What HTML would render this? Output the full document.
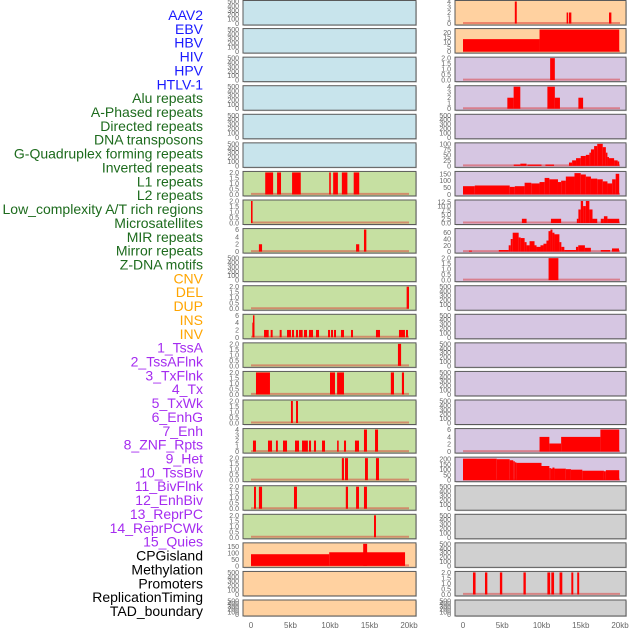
<!DOCTYPE html>
<html><head><meta charset="utf-8">
<style>
html,body{margin:0;padding:0;background:#fff;width:630px;height:630px;overflow:hidden}
svg{display:block;font-family:"Liberation Sans",sans-serif}
</style></head>
<body>
<svg id="chart" width="630" height="630"></svg>
<script>
// ---- labels ----
const labelTexts = ["AAV2","EBV","HBV","HIV","HPV","HTLV-1","Alu repeats","A-Phased repeats","Directed repeats","DNA transposons","G-Quadruplex forming repeats","Inverted repeats","L1 repeats","L2 repeats","Low_complexity A/T rich regions","Microsatellites","MIR repeats","Mirror repeats","Z-DNA motifs","CNV","DEL","DUP","INS","INV","1_TssA","2_TssAFlnk","3_TxFlnk","4_Tx","5_TxWk","6_EnhG","7_Enh","8_ZNF_Rpts","9_Het","10_TssBiv","11_BivFlnk","12_EnhBiv","13_ReprPC","14_ReprPCWk","15_Quies","CPGisland","Methylation","Promoters","ReplicationTiming","TAD_boundary"];
const labelGroups = [6,13,5,15,5];
const groupColors = ["#1a1aff","#1d6b1d","#ffa500","#a52cf0","#000000"];

// ---- x axis ----
const xTickValues = [0,5,10,15,20];
const xTickLabels = ["0","5kb","10kb","15kb","20kb"];

// ---- tick sets ----
const ticksEmpty = [0,100,200,300,400,500];
const ticks2 = [0,0.5,1,1.5,2];
const ticks4 = [0,1,2,3,4];
const ticks6 = [0,2,4,6];
const ticks150 = [0,50,100,150];
const ticks20 = [0,5,10,15,20];
const ticks100 = [0,25,50,75,100];
const ticks12 = [0,2.5,5,7.5,10,12.5];
const ticks60 = [0,20,40,60];
const ticks200 = [0,50,100,150,200];

// ---- series: [startKb, endKb, value] ----
const left_r06 = [[1.8,2.8,2],[3.3,3.8,2],[5.2,6.3,2],[9.9,10.1,2],[10.4,11.0,2],[11.5,12.2,2],[13.0,13.7,2]];
const left_r07 = [[0,0.2,2]];
const left_r08 = [[1.0,1.4,2],[13.3,13.7,2],[14.3,14.6,6]];
const left_r10 = [[19.7,20.0,2]];
const left_r11 = [[0.17,0.42,4],[0.25,0.32,6],[1.65,2.24,2],[2.49,2.74,2],[3.63,3.88,2],[4.56,5.06,2],[5.19,5.44,2],[5.70,5.95,2],[6.08,6.54,2],[6.71,7.09,2],[7.34,7.85,2],[8.23,8.61,2],[9.75,10.0,2],[10.13,10.38,2],[10.51,10.76,2],[11.39,11.77,2],[12.66,12.91,2],[15.82,16.33,2],[18.73,19.49,2],[19.62,19.87,2]];
const left_r12 = [[18.6,19.0,2]];
const left_r13 = [[0.63,2.4,2],[10.0,10.63,2],[10.9,11.77,2],[17.7,18.1,2],[19.1,19.37,2]];
const left_r14 = [[5.06,5.3,2],[5.7,5.95,2]];
const left_r15 = [[0.25,0.63,2],[2.15,2.66,2],[3.16,3.4,2],[4.05,4.56,2],[5.57,6.08,2],[6.46,7.2,2],[7.34,7.6,2],[7.97,8.23,2],[8.99,9.37,2],[10.9,11.1,2],[11.77,12.03,2],[13.16,13.67,2],[14.3,14.68,4],[15.7,16.08,4]];
const left_r16 = [[11.5,11.77,2],[11.9,12.28,2],[14.43,14.8,2],[15.82,16.2,2]];
const left_r17 = [[0.38,0.63,2],[1.0,1.4,2],[5.44,5.82,2],[12.0,12.28,2],[13.3,13.67,2],[14.3,14.68,2]];
const left_r18 = [[15.57,15.82,2]];
const left_r19 = [[0,9.9,90],[9.9,19.5,105],[14.2,14.7,170]];

const right_r00 = [[6.6,6.85,4],[13.2,13.4,2],[13.5,13.8,2],[18.6,18.9,2]];
const right_r01 = [[0,9.75,13],[9.75,19.9,23]];
const right_r02 = [[11.1,11.7,2]];
const right_r03 = [[5.65,6.45,2],[6.45,7.3,4],[10.75,11.7,4],[11.7,12.35,2],[14.7,15.3,2]];
const right_r05 = [[6.46,7.3,6],[7.3,8.1,10],[8.2,10.0,6],[10.5,11.6,6],[13.5,13.9,15],[13.9,14.4,25],[14.4,15.0,35],[15.0,15.65,45],[15.65,16.1,50],[16.1,16.3,60],[16.3,16.7,75],[16.7,17.1,90],[17.1,17.8,100],[17.8,18.2,85],[18.2,18.4,60],[18.4,18.6,40],[18.6,19.25,35],[19.25,19.7,25],[19.7,19.9,20]];
const right_r06 = [[0,1.5,60],[1.5,5.95,65],[5.95,6.6,55],[6.6,7.85,60],[7.85,8.7,85],[8.7,9.75,80],[9.75,10.4,90],[10.4,11.0,120],[11.0,12.1,110],[12.1,12.5,90],[12.5,13.1,100],[13.1,14.2,130],[14.2,15.0,155],[15.0,15.65,145],[15.65,16.3,130],[16.3,17.1,115],[17.1,17.8,110],[17.8,18.4,95],[18.4,19.0,80],[19.0,19.45,110],[19.45,19.9,150]];
const right_r07 = [[7.5,8.1,2.5],[11.2,12.5,2.5],[14.5,14.7,2.5],[14.7,15.0,8],[15.0,15.3,13],[15.3,15.65,10],[15.65,16.1,13],[16.1,16.5,8],[16.5,17.1,2.5],[17.55,17.95,2.5],[17.95,18.4,4],[18.4,19.9,2.5]];
const right_r08 = [[0.76,1.14,3],[4.56,5.82,5],[5.82,6.08,20],[6.08,6.33,40],[6.33,7.09,60],[7.09,7.34,45],[7.34,7.85,43],[7.85,8.1,30],[8.1,8.48,20],[8.48,9.11,33],[9.11,9.37,20],[9.37,9.87,15],[9.87,10.25,20],[10.25,10.63,25],[10.63,10.89,35],[10.89,11.14,65],[11.14,11.39,70],[11.39,11.65,60],[11.65,12.28,55],[12.28,12.53,30],[12.53,12.91,15],[12.91,14.39,5],[14.39,14.68,15],[14.68,15.53,20],[15.53,16.29,12],[17.55,18.73,5],[18.98,19.87,10]];
const right_r09 = [[10.9,12.15,2]];
const right_r15 = [[9.75,11.0,4],[11.0,12.5,2.2],[12.5,17.5,4],[17.5,19.9,6]];
const right_r16 = [[0,4.3,205],[4.3,5.95,200],[5.95,6.4,190],[6.4,6.6,180],[6.6,6.8,170],[6.8,10.0,165],[10.0,11.0,135],[11.0,11.2,115],[11.2,11.4,110],[11.4,11.65,120],[11.65,13.1,110],[13.1,13.75,105],[13.75,15.2,100],[15.2,17.95,90],[17.95,18.2,85],[18.2,19.9,95]];
const right_r20 = [[1.27,1.6,2],[2.8,3.1,2],[4.7,5.0,2],[7.7,8.0,2],[10.75,11.1,2],[11.25,11.6,2],[12.3,12.65,2],[13.8,14.05,2],[14.55,14.8,2]];

// panel backgrounds
const BLUE="#c8e4ec", GREEN="#c6e0a2", PEACH="#ffd1a0", PURPLE="#d6c6e2", GRAY="#d0d0d0";
const leftBg = [BLUE,BLUE,BLUE,BLUE,BLUE,BLUE,GREEN,GREEN,GREEN,GREEN,GREEN,GREEN,GREEN,GREEN,GREEN,GREEN,GREEN,GREEN,GREEN,PEACH,PEACH,PEACH];
const rightBg = [PEACH,PEACH,PURPLE,PURPLE,PURPLE,PURPLE,PURPLE,PURPLE,PURPLE,PURPLE,PURPLE,PURPLE,PURPLE,PURPLE,PURPLE,PURPLE,PURPLE,GRAY,GRAY,GRAY,GRAY,GRAY];

// panel specs: [col,row,series,ymax,ticks,decimals]
const panelSpecs = [
 [0,6,left_r06,2,ticks2,1],[0,7,left_r07,2,ticks2,1],[0,8,left_r08,6,ticks6,0],[0,10,left_r10,2,ticks2,1],
 [0,11,left_r11,6,ticks6,0],[0,12,left_r12,2,ticks2,1],[0,13,left_r13,2,ticks2,1],[0,14,left_r14,2,ticks2,1],
 [0,15,left_r15,4,ticks4,0],[0,16,left_r16,2,ticks2,1],[0,17,left_r17,2,ticks2,1],[0,18,left_r18,2,ticks2,1],
 [0,19,left_r19,170,ticks150,0],
 [1,0,right_r00,4,ticks4,0],[1,1,right_r01,23,ticks20,0],[1,2,right_r02,2,ticks2,1],[1,3,right_r03,4,ticks4,0],
 [1,5,right_r05,100,ticks100,0],[1,6,right_r06,160,ticks150,0],[1,7,right_r07,13,ticks12,1],[1,8,right_r08,70,ticks60,0],
 [1,9,right_r09,2,ticks2,1],[1,15,right_r15,6,ticks6,0],[1,16,right_r16,210,ticks200,0],[1,20,right_r20,2,ticks2,1]
];

const NS="http://www.w3.org/2000/svg";
const svg=document.getElementById('chart');
function mk(tag,attrs,parent){const e=document.createElementNS(NS,tag);for(const k in attrs)e.setAttribute(k,attrs[k]);(parent||svg).appendChild(e);return e;}

const colX=[[243,416,251,409],[455,626,463,620]];
const PITCH=600/21;
function rowTop(r){return r===0?0.5:r*PITCH;}
function rowH(r){return r===21?16:24.5;}
function xScale(col,kb){const c=colX[col];return c[2]+(c[3]-c[2])*kb/20;}
function yScale(row,v,ymax){const t=rowTop(row),h=rowH(row);const y0=t+h-1.5,y1=t+1;return y0-(y0-y1)*v/ymax;}

// labels
let li=0;
labelGroups.forEach((n,g)=>{for(let k=0;k<n;k++){
 const t=mk('text',{x:203,y:(15+li*13.86+5).toFixed(1),'text-anchor':'end','font-size':'14',fill:groupColors[g]});
 t.textContent=labelTexts[li];
 
 
 li++;}});

// panels
const specMap={};
panelSpecs.forEach(s=>{specMap[s[0]+'_'+s[1]]=s;});
for(let col=0;col<2;col++){
 for(let row=0;row<22;row++){
  const c=colX[col],t=rowTop(row),h=rowH(row);
  const g=mk('g',{});
  
  
  mk('rect',{x:c[0]+1,y:t+1,width:c[1]-c[0],height:h,fill:'#bbb',opacity:0.6},g);
  const bg=mk('rect',{x:c[0],y:t,width:c[1]-c[0],height:h,fill:(col===0?leftBg:rightBg)[row],stroke:'#5a5a5a','stroke-width':1},g);
  
  
  const s=specMap[col+'_'+row];
  let ymax=500,ticks=ticksEmpty,dec=0;
  if(s){ymax=s[3];ticks=s[4];dec=s[5];}
  ticks.forEach(v=>{
   const tt=mk('text',{x:c[0]-4,y:(yScale(row,v,ymax)+2.5).toFixed(1),'text-anchor':'end','font-size':'7',fill:'#666'},g);
   tt.textContent=v.toFixed(dec);
   
   
  });
  if(s){
   const base=mk('line',{x1:xScale(col,0),x2:xScale(col,20),y1:yScale(row,0,ymax)-0.5,y2:yScale(row,0,ymax)-0.5,stroke:'rgba(220,40,40,0.45)','stroke-width':2},g);
   
   
   s[2].forEach(d=>{
    const x1=xScale(col,d[0]),x2=xScale(col,d[1]);
    const yt=yScale(row,d[2],ymax),yb=yScale(row,0,ymax);
    const b=mk('rect',{x:x1.toFixed(2),y:yt.toFixed(2),width:Math.max(1.5,x2-x1).toFixed(2),height:(yb-yt).toFixed(2),fill:'#ff0000'},g);
    
    
   });
  }
 }
 xTickValues.forEach((v,i)=>{
  const t=mk('text',{x:xScale(col,v),y:628,'text-anchor':'middle','font-size':'8',fill:'#666'});
  t.textContent=xTickLabels[i];
  
  
 });
}
</script>
</body></html>
